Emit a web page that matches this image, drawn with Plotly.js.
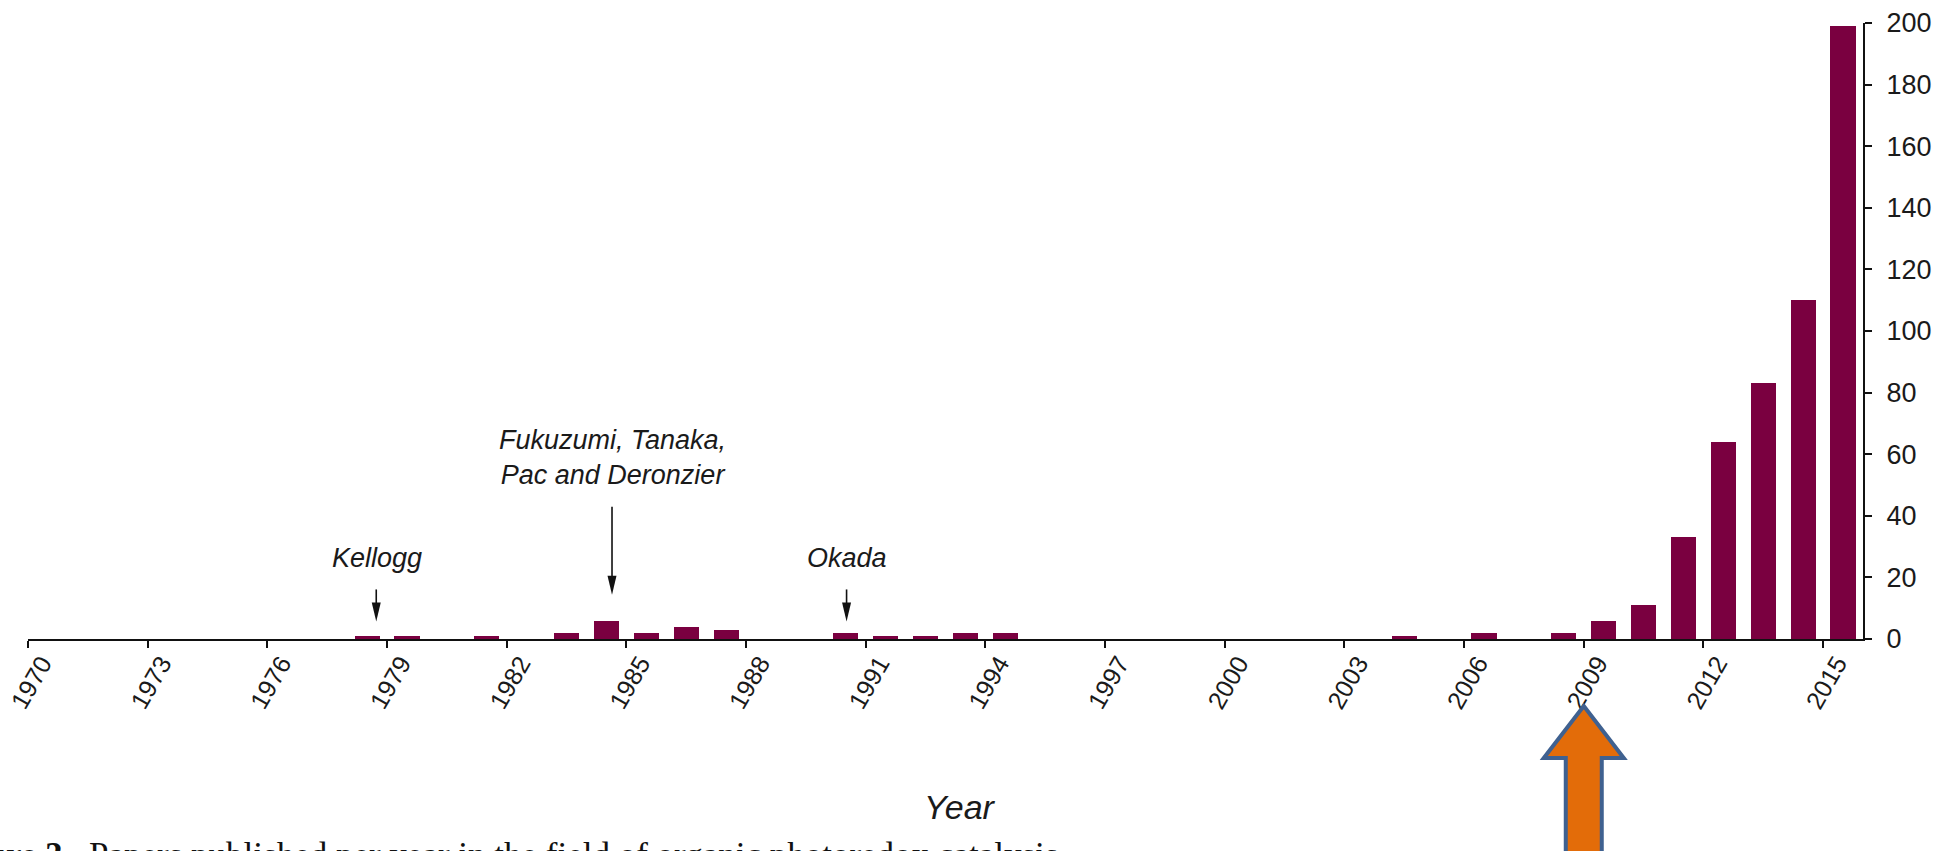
<!DOCTYPE html>
<html>
<head>
<meta charset="utf-8">
<script src="https://cdn.plot.ly/plotly-3.0.1.min.js"></script>
<style>
  html, body { margin: 0; padding: 0; background: #ffffff; }
  #chart { width: 1939px; height: 851px; }
</style>
</head>
<body>
<div id="chart"></div>
<script>
// ---- data ----
const years  = [1978, 1979, 1981, 1983, 1984, 1985, 1986, 1987, 1990, 1991, 1992, 1993, 1994,
                2004, 2006, 2008, 2009, 2010, 2011, 2012, 2013, 2014, 2015];
const papers = [1, 1, 1, 2, 6, 2, 4, 3, 2, 1, 1, 2, 2,
                1, 2, 2, 6, 11, 33, 64, 83, 110, 199];
const tickYears  = [1970, 1973, 1976, 1979, 1982, 1985, 1988, 1991, 1994, 1997, 2000, 2003, 2006, 2009, 2012, 2015];
const tickLabels = tickYears.map(String);
const yTicks     = [0, 20, 40, 60, 80, 100, 120, 140, 160, 180, 200];

const noteTexts  = ['Kellogg', 'Fukuzumi, Tanaka,<br>Pac and Deronzier', 'Okada'];
const noteYears  = [1978.73, 1984.64, 1990.52];   // year each arrow points at
const xAxisTitle = 'Year';
const caption    = '<b>Figure 3.</b>\u00a0 Papers published per year in the field of organic photoredox catalysis.';
const highlightYear = 2009;

// ---- annotation placement (styling) ----
const noteTextX  = [1978.76, 1984.65, 1990.53];
const noteTextY  = [26.4, 58.8, 26.4];
const arrowTipY  = [5.7, 14.4, 5.7];
const arrowLenPx = [32, 88, 32];

const FONT = 'Liberation Sans, Arial, Helvetica, sans-serif';
const BAR_COLOR = '#7a0040';

const trace = {
  type: 'bar',
  x: years,
  y: papers,
  width: 0.63,
  offset: 0.185,
  marker: { color: BAR_COLOR, line: { width: 0 } },
  hoverinfo: 'x+y'
};

const annotations = [];
const shapes = [];

noteTexts.forEach((t, i) => {
  annotations.push({
    xref: 'x', yref: 'y', x: noteTextX[i], y: noteTextY[i],
    text: t, showarrow: false, xanchor: 'center', yanchor: 'middle',
    font: { family: FONT, size: 27, color: '#1a1a1a', style: 'italic' },
    align: 'center'
  });
  // arrow shaft
  shapes.push({
    type: 'line', xref: 'x', yref: 'y',
    xsizemode: 'pixel', ysizemode: 'pixel',
    xanchor: noteYears[i], yanchor: arrowTipY[i],
    x0: 0, x1: 0, y0: 10, y1: arrowLenPx[i],
    line: { color: '#111', width: 1.6 }
  });
  // arrow head
  shapes.push({
    type: 'path', xref: 'x', yref: 'y',
    xsizemode: 'pixel', ysizemode: 'pixel',
    xanchor: noteYears[i], yanchor: arrowTipY[i],
    path: 'M -4.5 19 L 4.5 19 L 0 0 Z',
    fillcolor: '#111', line: { width: 0 }
  });
});

// orange highlight arrow under 2009
shapes.push({
  type: 'path', xref: 'x', yref: 'paper',
  xsizemode: 'pixel', ysizemode: 'pixel',
  xanchor: highlightYear, yanchor: 0,
  path: 'M 0 -67 L 40 -119 L 18 -119 L 18 -240 L -18 -240 L -18 -119 L -40 -119 Z',
  fillcolor: '#e36c09',
  line: { color: '#3f6190', width: 4 },
  layer: 'above'
});

// x-axis title
annotations.push({
  xref: 'paper', yref: 'paper', x: 0.508, y: 0,
  xanchor: 'center', yanchor: 'middle', yshift: -168,
  text: xAxisTitle, showarrow: false,
  font: { family: FONT, size: 34, color: '#1a1a1a', style: 'italic' }
});

// caption (cut by the page edge as in the picture)
annotations.push({
  xref: 'paper', yref: 'paper', x: 0, y: 0,
  xanchor: 'left', yanchor: 'top', xshift: -92, yshift: -195,
  text: caption, showarrow: false,
  font: { family: 'Liberation Serif, Times New Roman, serif', size: 35, color: '#111' }
});

const layout = {
  width: 1939, height: 851,
  margin: { l: 28, r: 76, t: 23, b: 212, pad: 0 },
  paper_bgcolor: '#ffffff', plot_bgcolor: '#ffffff',
  showlegend: false,
  bargap: 0,
  xaxis: {
    type: 'linear', range: [1970, 2016],
    tickmode: 'array', tickvals: tickYears, ticktext: tickLabels,
    tickangle: -60,
    ticks: 'outside', ticklen: 7, tickwidth: 2, tickcolor: '#111',
    ticklabelstandoff: -9,
    ticklabelshift: 14,
    ticklabeloverflow: 'allow',
    showline: true, linewidth: 2, linecolor: '#111',
    showgrid: false, zeroline: false,
    tickfont: { family: FONT, size: 25, color: '#1a1a1a' },
    fixedrange: true
  },
  yaxis: {
    side: 'right', range: [0, 200],
    tickmode: 'array', tickvals: yTicks, ticktext: yTicks.map(String),
    ticks: 'outside', ticklen: 7, tickwidth: 2, tickcolor: '#111',
    ticklabelstandoff: 9,
    ticklabeloverflow: 'allow',
    showline: true, linewidth: 2, linecolor: '#111',
    showgrid: false, zeroline: false,
    tickfont: { family: FONT, size: 27, color: '#1a1a1a' },
    fixedrange: true
  },
  annotations: annotations,
  shapes: shapes
};

Plotly.newPlot('chart', [trace], layout, { displayModeBar: false, staticPlot: true });
</script>
</body>
</html>
